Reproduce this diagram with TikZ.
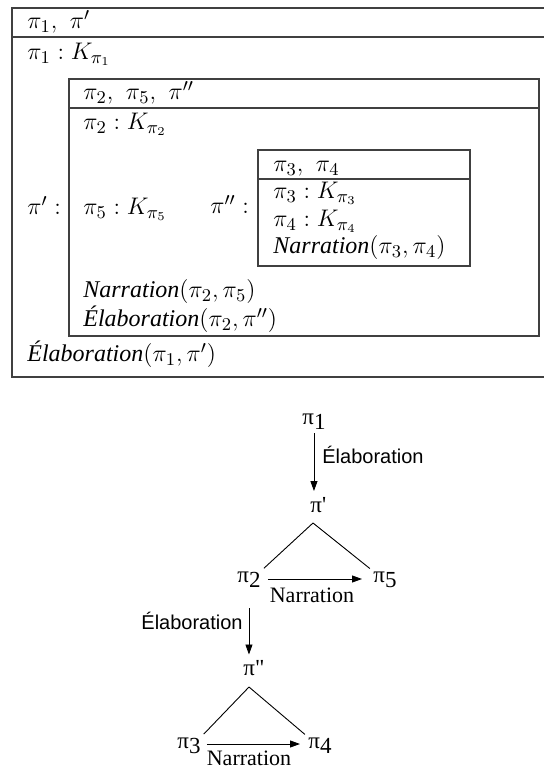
\documentclass[tikz,border=0pt]{standalone}
\usepackage{fontspec}
\newfontfamily\tim{Liberation Serif}
\newfontfamily\hel{Liberation Sans}
\usetikzlibrary{arrows.meta}
\newcommand\tsb[1]{\raisebox{-2.5pt}{#1}}
\newcommand\relw[1]{{\tim\itshape\fontsize{12}{14}\selectfont #1}}
\begin{document}
\begin{tikzpicture}[x=0.5pt,y=-0.5pt,
  boxline/.style={line width=0.6pt, draw=black!75},
  drs/.style={anchor=base west, inner sep=0pt, font=\fontsize{13}{15.5}\selectfont},
  tnode/.style={anchor=base west, inner sep=0pt, font=\tim\fontsize{11.5}{13}\selectfont},
  rellab/.style={inner sep=0pt, font=\tim\fontsize{11}{13}\selectfont},
  elab/.style={inner sep=0pt, font=\hel\fontsize{10}{12}\selectfont},
  arr/.style={line width=0.45pt, -{Triangle[length=5pt,width=3.5pt]}},
  tedge/.style={line width=0.45pt}]
\useasboundingbox (0,0) rectangle (543,769);
% ---------- DRS boxes ----------
\draw[boxline] (548,8) -- (12,8) -- (12,377) -- (548,377);
\draw[boxline] (12,37) -- (548,37);
\draw[boxline] (69,79) rectangle (539,336);
\draw[boxline] (69,108) -- (539,108);
\draw[boxline] (258,150) rectangle (470,266);
\draw[boxline] (258,179) -- (470,179);
% ---------- DRS texts ----------
\node[drs] (t1) at (27,29) {$\pi_1,\ \pi'$};
\node[drs] (t2) at (27,60) {$\pi_1 : K_{\pi_1}$};
\node[drs] (t3) at (83,100) {$\pi_2,\ \pi_5,\ \pi''$};
\node[drs] (t4) at (83,130) {$\pi_2 : K_{\pi_2}$};
\node[drs] (t5) at (273,172) {$\pi_3,\ \pi_4$};
\node[drs] (t6) at (273,199) {$\pi_3 : K_{\pi_3}$};
\node[drs] (t7) at (273,227) {$\pi_4 : K_{\pi_4}$};
\node[drs] (t8) at (273,254) {\relw{Narration}$(\pi_3,\pi_4)$};
\node[drs] (t9) at (27,215) {$\pi' :$};
\node[drs] (t10) at (83,215) {$\pi_5 : K_{\pi_5}$};
\node[drs] (t11) at (210,214) {$\pi'' :$};
\node[drs] (t12) at (83,298) {\relw{Narration}$(\pi_2,\pi_5)$};
\node[drs] (t13) at (83,327) {\relw{Élaboration}$(\pi_2,\pi'')$};
\node[drs] (t14) at (27,362) {\relw{Élaboration}$(\pi_1,\pi')$};
% ---------- tree ----------
\node[tnode] (p1) at (302,424) {π\tsb{1}};
\node[tnode] (pp) at (310,512) {π'};
\node[tnode] (p2) at (237,582) {π\tsb{2}};
\node[tnode] (p5) at (373,582) {π\tsb{5}};
\node[tnode] (ppp) at (243,675) {π"};
\node[tnode] (p3) at (177,748) {π\tsb{3}};
\node[tnode] (p4) at (308,748) {π\tsb{4}};
\coordinate (apex1) at (313,523);
\coordinate (apex2) at (249,687);
\node[elab, anchor=base west] (e1) at (322,463) {Élaboration};
\node[elab, anchor=base east] (e2) at (243,629) {Élaboration};
\node[rellab, anchor=base] (n1) at (312,602) {Narration};
\node[rellab, anchor=base] (n2) at (249,765) {Narration};
\draw[arr, shorten <=2pt, shorten >=2.75pt] (p1.south) -- (p1.south |- pp.north);
\draw[tedge, shorten >=2pt] (apex1) -- (p2.north east);
\draw[tedge, shorten >=2pt] (apex1) -- (p5.north west);
\draw[arr, shorten <=3.5pt, shorten >=5.5pt] ([yshift=1.5pt]p2.base east) -- ([yshift=1.5pt]p5.base west);
\draw[arr, shorten <=10.5pt, shorten >=2.5pt] (p2.south) -- (p2.south |- ppp.north);
\draw[tedge, shorten >=2pt] (apex2) -- (p3.north east);
\draw[tedge, shorten >=2pt] (apex2) -- (p4.north west);
\draw[arr, shorten <=3pt, shorten >=4pt] ([yshift=2pt]p3.base east) -- ([yshift=2pt]p4.base west);
\end{tikzpicture}
\end{document}
